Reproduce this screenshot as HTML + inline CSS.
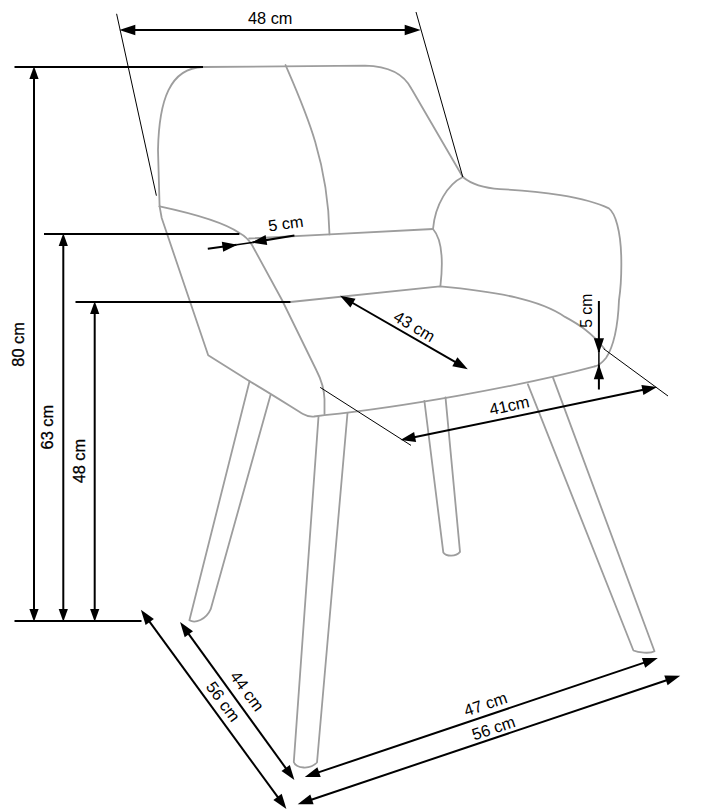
<!DOCTYPE html>
<html><head><meta charset="utf-8"><style>html,body{margin:0;padding:0;background:#fff;width:705px;height:811px;overflow:hidden}svg{display:block}</style></head>
<body><svg width="705" height="811" viewBox="0 0 705 811">
<rect width="705" height="811" fill="#fff"/>
<g><path d="M203,67 L365,65.6 C388,66 404,74 411.6,89 L462.8,177" fill="none" stroke="#9d9d9d" stroke-width="1.8" stroke-linejoin="round" stroke-linecap="round"/><path d="M203,67 C170,68 159,100 158,150 L159.6,206.4" fill="none" stroke="#9d9d9d" stroke-width="1.8" stroke-linejoin="round" stroke-linecap="round"/><path d="M285.5,65 C305,110 328,160 329.5,234.4" fill="none" stroke="#9d9d9d" stroke-width="1.8" stroke-linejoin="round" stroke-linecap="round"/><path d="M159.6,206.4 C195,214 225,223 239.4,233 Q247,237 252,245 L282,300 L316.5,370.5 Q324,385 324.5,399 L324.5,414" fill="none" stroke="#9d9d9d" stroke-width="1.8" stroke-linejoin="round" stroke-linecap="round"/><path d="M159.6,206.4 L161.7,218 L208.2,355.3 L250,381.5 C278,398 296,410 303,414 Q308,417 314,416.5 L324.5,415.2 C399.4,407.3 517.6,387.1 594.9,366.4" fill="none" stroke="#9d9d9d" stroke-width="1.8" stroke-linejoin="round" stroke-linecap="round"/><path d="M249.1,238.5 L329.5,234.4 L433,229" fill="none" stroke="#9d9d9d" stroke-width="1.8" stroke-linejoin="round" stroke-linecap="round"/><path d="M462.8,177 C448,184 435,205 433,229 C441,238 444,255 440.4,286.2" fill="none" stroke="#9d9d9d" stroke-width="1.8" stroke-linejoin="round" stroke-linecap="round"/><path d="M462.8,177 C470,183 482,188 500,189.1 C540,191 585,197 608.9,208.4 C615,213 621,230 621.3,260 C621.5,275 620.5,290 619,300 C618,325 614,346 606,358 C601,364 597,366 594.9,366.4" fill="none" stroke="#9d9d9d" stroke-width="1.8" stroke-linejoin="round" stroke-linecap="round"/><path d="M290.4,302 L440,286.4 C500,292 540,300 565,316.9 C580,325 592,333 604.4,348.8" fill="none" stroke="#9d9d9d" stroke-width="1.8" stroke-linejoin="round" stroke-linecap="round"/><path d="M249.6,381 L189.4,620.3 C195,623.5 206,620 210.7,609.2 L270.6,394.8" fill="none" stroke="#9d9d9d" stroke-width="1.8" stroke-linejoin="round" stroke-linecap="round"/><path d="M318.5,416.6 L293.8,762 C296,768.5 310,770 317,762.5 L347.5,413" fill="none" stroke="#9d9d9d" stroke-width="1.8" stroke-linejoin="round" stroke-linecap="round"/><path d="M424.4,401 L443.3,552.4 C446,556.5 456,557 460,551.9 L445.5,397.3" fill="none" stroke="#9d9d9d" stroke-width="1.8" stroke-linejoin="round" stroke-linecap="round"/><path d="M527.9,384.3 L633.4,650.5 C638,652.5 650,654 654.5,651.2 L553,377.6" fill="none" stroke="#9d9d9d" stroke-width="1.8" stroke-linejoin="round" stroke-linecap="round"/></g>
<g><line x1="133.0" y1="30.0" x2="407.0" y2="30.0" stroke="#000" stroke-width="2"/><polygon points="119.3,30.0 135.3,24.7 135.3,35.3" fill="#000"/><polygon points="420.7,30.0 404.7,35.3 404.7,24.7" fill="#000"/><line x1="116.6" y1="13.8" x2="156.4" y2="195.7" stroke="#000" stroke-width="1.0"/><line x1="416.0" y1="12.0" x2="462.8" y2="177.0" stroke="#000" stroke-width="1.0"/><line x1="14.5" y1="67.0" x2="203.0" y2="67.0" stroke="#000" stroke-width="2"/><line x1="34.0" y1="76.8" x2="34.0" y2="611.2" stroke="#000" stroke-width="2"/><polygon points="34.0,66.3 38.6,79.1 29.4,79.1" fill="#000"/><polygon points="34.0,621.7 29.4,608.9 38.6,608.9" fill="#000"/><line x1="44.0" y1="234.0" x2="239.4" y2="234.0" stroke="#000" stroke-width="2"/><line x1="63.3" y1="243.8" x2="63.3" y2="611.2" stroke="#000" stroke-width="2"/><polygon points="63.3,233.3 67.9,246.1 58.7,246.1" fill="#000"/><polygon points="63.3,621.7 58.7,608.9 67.9,608.9" fill="#000"/><line x1="75.5" y1="302.0" x2="290.4" y2="302.0" stroke="#000" stroke-width="2"/><line x1="94.7" y1="311.8" x2="94.7" y2="611.2" stroke="#000" stroke-width="2"/><polygon points="94.7,301.3 99.3,314.1 90.1,314.1" fill="#000"/><polygon points="94.7,621.7 90.1,608.9 99.3,608.9" fill="#000"/><line x1="14.5" y1="621.0" x2="141.5" y2="621.0" stroke="#000" stroke-width="2"/><line x1="207.8" y1="248.7" x2="236.7" y2="244.8" stroke="#000" stroke-width="2"/><polygon points="237.4,244.7 223.2,251.8 221.8,241.7" fill="#000"/><line x1="236.7" y1="244.8" x2="252.3" y2="242.4" stroke="#000" stroke-width="1.5"/><line x1="294.4" y1="235.4" x2="252.3" y2="242.4" stroke="#000" stroke-width="2"/><polygon points="251.6,242.5 265.6,235.0 267.2,245.1" fill="#000"/><line x1="351.0" y1="302.0" x2="456.8" y2="362.9" stroke="#000" stroke-width="2"/><polygon points="340.0,295.7 355.5,298.7 350.4,307.6" fill="#000"/><polygon points="467.8,369.2 452.3,366.2 457.4,357.3" fill="#000"/><line x1="598.9" y1="301.0" x2="598.9" y2="352.5" stroke="#000" stroke-width="2"/><polygon points="598.9,353.2 593.8,338.2 604.0,338.2" fill="#000"/><line x1="598.9" y1="352.5" x2="598.9" y2="365.0" stroke="#000" stroke-width="1.5"/><line x1="598.9" y1="389.5" x2="598.9" y2="365.0" stroke="#000" stroke-width="2"/><polygon points="598.9,364.3 604.0,379.3 593.8,379.3" fill="#000"/><line x1="603.7" y1="348.8" x2="668.0" y2="396.0" stroke="#000" stroke-width="1.0"/><line x1="412.9" y1="437.6" x2="644.6" y2="389.6" stroke="#000" stroke-width="2"/><polygon points="400.4,440.1 414.1,432.1 416.1,442.1" fill="#000"/><polygon points="657.1,387.1 643.4,395.1 641.4,385.1" fill="#000"/><line x1="320.2" y1="387.4" x2="411.0" y2="445.4" stroke="#000" stroke-width="1.0"/><line x1="148.4" y1="620.1" x2="278.9" y2="798.7" stroke="#000" stroke-width="2"/><polygon points="140.9,609.8 153.9,618.9 145.6,625.0" fill="#000"/><polygon points="286.4,809.0 273.4,799.9 281.7,793.8" fill="#000"/><line x1="187.5" y1="632.3" x2="287.0" y2="769.8" stroke="#000" stroke-width="2"/><polygon points="180.1,622.0 193.0,631.2 184.7,637.2" fill="#000"/><polygon points="294.4,780.1 281.5,770.9 289.8,764.9" fill="#000"/><line x1="316.9" y1="772.9" x2="645.7" y2="662.1" stroke="#000" stroke-width="2"/><polygon points="304.8,776.9 317.4,767.3 320.7,777.0" fill="#000"/><polygon points="657.8,658.1 645.2,667.7 641.9,658.0" fill="#000"/><line x1="309.8" y1="800.2" x2="668.1" y2="679.7" stroke="#000" stroke-width="2"/><polygon points="297.7,804.2 310.3,794.6 313.6,804.3" fill="#000"/><polygon points="680.2,675.7 667.6,685.3 664.3,675.6" fill="#000"/></g>
<g font-family="Liberation Sans" fill="#000"><text x="0" y="0" transform="translate(270.2,23.8) rotate(0)" font-size="16.5" text-anchor="middle" textLength="44.5" lengthAdjust="spacingAndGlyphs">48 cm</text><text x="0" y="0" transform="translate(24.4,344.4) rotate(-90)" font-size="16" text-anchor="middle" textLength="44.5" lengthAdjust="spacingAndGlyphs" stroke="#000" stroke-width="0.3">80 cm</text><text x="0" y="0" transform="translate(53.2,427.2) rotate(-90)" font-size="16" text-anchor="middle" textLength="44.5" lengthAdjust="spacingAndGlyphs" stroke="#000" stroke-width="0.3">63 cm</text><text x="0" y="0" transform="translate(85.4,461.1) rotate(-90)" font-size="16" text-anchor="middle" textLength="44.5" lengthAdjust="spacingAndGlyphs" stroke="#000" stroke-width="0.3">48 cm</text><text x="0" y="0" transform="translate(286.5,229) rotate(-8)" font-size="16" text-anchor="middle" textLength="35.5" lengthAdjust="spacingAndGlyphs">5 cm</text><text x="0" y="0" transform="translate(411.5,331.3) rotate(30.5)" font-size="16.5" text-anchor="middle" textLength="44.5" lengthAdjust="spacingAndGlyphs">43 cm</text><text x="0" y="0" transform="translate(591.6,310.8) rotate(-90)" font-size="16" text-anchor="middle" textLength="34" lengthAdjust="spacingAndGlyphs">5 cm</text><text x="0" y="0" transform="translate(510.5,411.1) rotate(-12)" font-size="16.5" text-anchor="middle" textLength="40.5" lengthAdjust="spacingAndGlyphs">41cm</text><text x="0" y="0" transform="translate(242.5,694.5) rotate(54)" font-size="16.5" text-anchor="middle" textLength="45" lengthAdjust="spacingAndGlyphs">44 cm</text><text x="0" y="0" transform="translate(218.5,705) rotate(54)" font-size="16.5" text-anchor="middle" textLength="45" lengthAdjust="spacingAndGlyphs">56 cm</text><text x="0" y="0" transform="translate(487.4,709.5) rotate(-18.6)" font-size="16.5" text-anchor="middle" textLength="44.5" lengthAdjust="spacingAndGlyphs">47 cm</text><text x="0" y="0" transform="translate(495.4,733.5) rotate(-18.6)" font-size="16.5" text-anchor="middle" textLength="44.5" lengthAdjust="spacingAndGlyphs">56 cm</text></g>
</svg></body></html>
